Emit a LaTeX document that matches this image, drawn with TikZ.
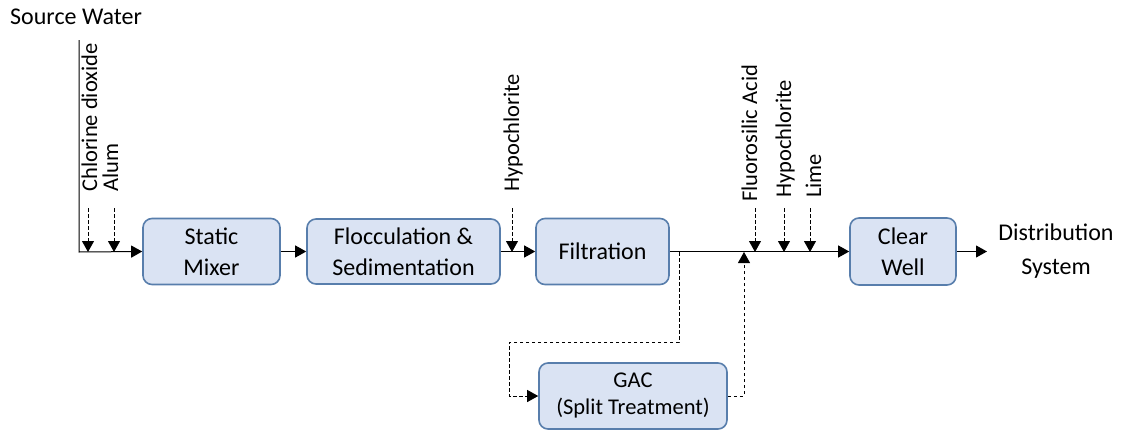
\documentclass[tikz,border=0pt]{standalone}
\usepackage{fontspec}
\setmainfont{Carlito}
\usetikzlibrary{arrows.meta}
\definecolor{boxfill}{RGB}{218,227,243}
\definecolor{boxdraw}{RGB}{88,126,172}
\begin{document}
\begin{tikzpicture}[x=1pt,y=-1pt,
  proc/.style={draw=boxdraw, line width=1.6pt, fill=boxfill, rounded corners=9pt, inner sep=0pt, align=center, font=\fontsize{24}{31}\selectfont},
  lbl/.style={rotate=90, anchor=base west, inner sep=0pt, font=\fontsize{22.5}{26}\selectfont},
  txt/.style={align=center, inner sep=0pt, font=\fontsize{24}{34}\selectfont},
  flow/.style={line width=1pt, -{Triangle[length=11pt,width=12pt]}},
  chem/.style={line width=0.9pt, dash pattern=on 3.5pt off 2.5pt, -{Triangle[length=11pt,width=12pt]}}
]
\useasboundingbox (0,0) rectangle (1121,431);
% boxes
\node[proc, minimum width=137pt, minimum height=66pt] (mix) at (211.5,251.5) {Static\\Mixer};
\node[proc, minimum width=193pt, minimum height=65pt] (floc) at (403.5,251.5) {Flocculation \&\\Sedimentation};
\node[proc, minimum width=133pt, minimum height=66pt] (filt) at (602.5,251.5) {Filtration};
\node[proc, minimum width=106pt, minimum height=67pt] (cw) at (903,251.5) {Clear\\Well};
\node[proc, minimum width=188pt, minimum height=66pt, font=\fontsize{22.5}{27}\selectfont] (gac) at (633,396) {GAC\\(Split Treatment)};
% texts
\node[txt, anchor=west] (src) at (10,17) {Source Water};
\node[txt] (dist) at (1056,251) {Distribution\\System};
% labels
\node[lbl] (l1) at (97,192) {Chlorine dioxide};
\node[lbl] (l2) at (118,192) {Alum};
\node[lbl] (l3) at (519,192) {Hypochlorite};
\node[lbl] (l4) at (757,202) {Fluorosilic Acid};
\node[lbl] (l5) at (791,198) {Hypochlorite};
\node[lbl] (l6) at (821,198) {Lime};
% coordinates
\coordinate (top) at (79,40);
\coordinate (corner) at (79,252);
\coordinate (c1) at (88,208);
\coordinate (c1e) at (88,252);
\coordinate (c2) at (114,208);
\coordinate (c2e) at (114,252);
\coordinate (c3) at (512,208);
\coordinate (c3e) at (512,252);
\coordinate (c4) at (755,208);
\coordinate (c4e) at (755,252);
\coordinate (c5) at (784,208);
\coordinate (c5e) at (784,252);
\coordinate (c6) at (810,208);
\coordinate (c6e) at (810,252);
\coordinate (split) at (679,252);
\coordinate (ret) at (744,252);
\coordinate (distin) at (987,251.5);
% main flow
\draw[flow] (top) -- (corner) -- (mix.west);
\draw[flow] (mix.east) -- (floc.west);
\draw[flow] (floc.east) -- (filt.west);
\draw[flow] (filt.east) -- (cw.west);
\draw[flow] (cw.east) -- (distin);
% chemical feeds
\draw[chem] (c1) -- (c1e);
\draw[chem] (c2) -- (c2e);
\draw[chem] (c3) -- (c3e);
\draw[chem] (c4) -- (c4e);
\draw[chem] (c5) -- (c5e);
\draw[chem] (c6) -- (c6e);
% split treatment
\draw[chem] (split) -- (679,342) -- (509,342) -- (509,396) -- (gac.west);
\draw[chem] (gac.east) -- (744,396) -- (ret);
\end{tikzpicture}
\end{document}
